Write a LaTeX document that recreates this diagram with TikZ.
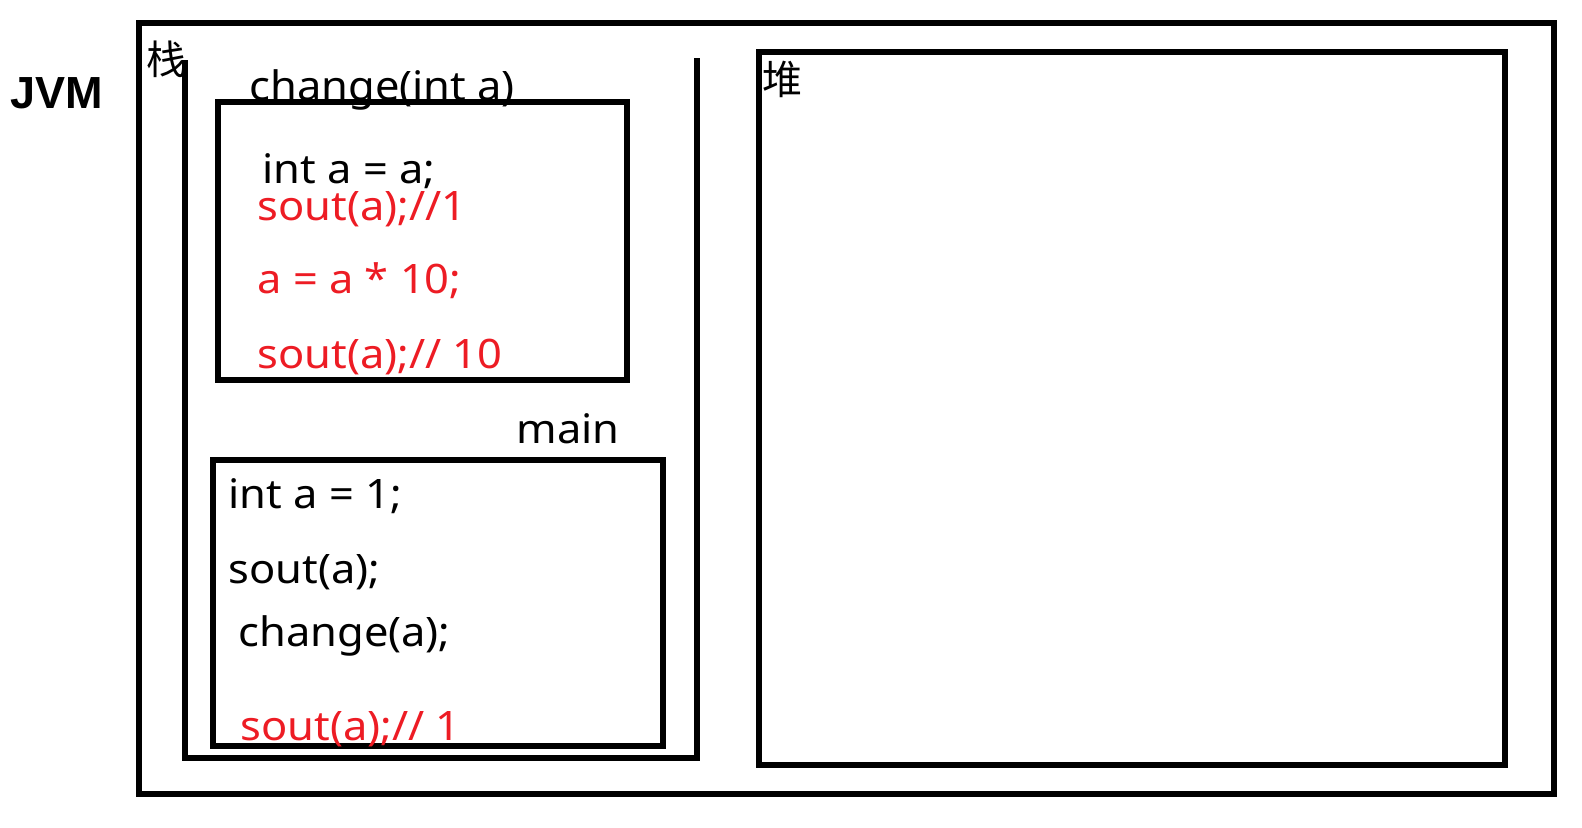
\documentclass[tikz,border=0pt]{standalone}
\usepackage{fontspec}
\setmainfont{Noto Sans}[FakeStretch=1.07]
\newfontfamily\cjk{Noto Sans CJK SC}
\newfontfamily\jvmfont{Liberation Sans}
\usepackage{tikz}
\usetikzlibrary{calc}

\tikzset{
    frame/.style={line width=2.7pt, line join=miter},
    code/.style={anchor=base west, inner sep=0pt, font=\fontsize{20.3pt}{22pt}\selectfont},
    redcode/.style={code, text={rgb,255:red,237;green,28;blue,36}},
    hanzi/.style={anchor=north west, inner sep=0pt, font=\cjk\fontsize{20pt}{22pt}\selectfont},
}

\begin{document}
\begin{tikzpicture}[x=0.5pt, y=-0.5pt]
    %% Background
    \useasboundingbox (0,0) rectangle (1582,827);

    %% JVM frame
    \draw[frame] (139,23) rectangle (1554,794);
    \node[anchor=base west, inner sep=0pt, font=\jvmfont\bfseries\fontsize{22.5pt}{26pt}\selectfont] (jvm) at (10,108) {JVM};

    %% Stack
    \draw[frame] (185,60) -- (185,758) -- (697,758) -- (697,58);
    \node[hanzi] (stack) at (146,40) {栈};

    %% change frame
    \draw[frame] (218,102) rectangle (627,380);
    \node[code] (changehead) at (249,100) {change(int a)};
    \node[code] (c1) at (262,183) {int a = a;};
    \node[redcode] (c2) at (257,220) {sout(a);//1};
    \node[redcode] (c3) at (257,293) {a = a * 10;};
    \node[redcode] (c4) at (257,368) {sout(a);// 10};

    %% main frame
    \draw[frame] (213,460) rectangle (663,746);
    \node[code] (mainhead) at (516,443) {main};
    \node[code] (m1) at (228,508) {int a = 1;};
    \node[code] (m2) at (228,583) {sout(a);};
    \node[code] (m3) at (238,646) {change(a);};
    \node[redcode] (m4) at (240,740) {sout(a);// 1};

    %% Heap
    \draw[frame] (759,52) rectangle (1505,765);
    \node[hanzi] (heap) at (762,61) {堆};
\end{tikzpicture}
\end{document}
